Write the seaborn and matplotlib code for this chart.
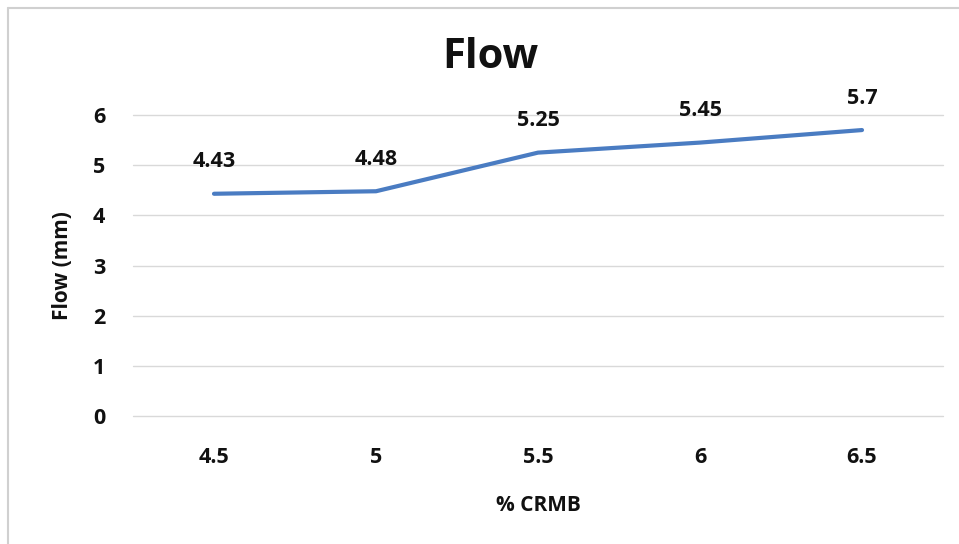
import matplotlib
matplotlib.use("Agg")
import matplotlib.pyplot as plt
import seaborn as sns
import pandas as pd
from matplotlib.lines import Line2D

# Marshall flow versus crumb-rubber content
crmb_pct = ["4.5", "5", "5.5", "6", "6.5"]
flow_mm = [4.43, 4.48, 5.25, 5.45, 5.7]
y_ticks = [0, 1, 2, 3, 4, 5, 6]

df = pd.DataFrame({"crmb": crmb_pct, "flow": flow_mm})

sns.set_theme(style="white")
plt.rcParams["font.family"] = ["Open Sans", "DejaVu Sans"]

fig = plt.figure(figsize=(9.59, 5.44), dpi=100)
ax = fig.add_axes([133 / 959, 1 - 416 / 544, 810 / 959, 301 / 544])

sns.lineplot(data=df, x="crmb", y="flow", ax=ax, color="#4A7CC2",
             linewidth=3, sort=False, solid_capstyle="round")

txt = dict(fontsize=15.5, fontweight="bold", color="#111111")

ax.set_xlim(-0.5, len(crmb_pct) - 0.5)
ax.set_ylim(0, 6)
ax.set_yticks(y_ticks)
ax.set_yticklabels([str(t) for t in y_ticks], **txt)
ax.set_xticks(range(len(crmb_pct)))
ax.set_xticklabels(crmb_pct, **txt)
ax.tick_params(axis="y", length=0, pad=20)
ax.tick_params(axis="x", length=0, pad=22)

ax.yaxis.grid(True, color="#d9d9d9", linewidth=1)
for gl in ax.get_ygridlines():
    gl.set_clip_on(False)
ax.set_axisbelow(True)
for s in ax.spines.values():
    s.set_visible(False)

# value labels above each point
for i, v in enumerate(flow_mm):
    ax.annotate(f"{v:g}", (i, v), xytext=(0, 23), textcoords="offset points",
                ha="center", va="center", **txt)

ax.set_xlabel("% CRMB", fontsize=15, fontweight="bold", color="#111111",
              labelpad=20)
ax.set_ylabel("Flow (mm)", fontsize=15, fontweight="bold", color="#111111",
              labelpad=14)

fig.text(490 / 959, 1 - 57 / 544, "Flow", ha="center", va="center",
         fontsize=30, fontweight="bold", color="#111111")

# chart frame edges (top and left)
fig.add_artist(Line2D([8 / 959, 1], [1 - 8 / 544, 1 - 8 / 544],
                      transform=fig.transFigure, color="#d0d0d0", linewidth=1.5))
fig.add_artist(Line2D([8 / 959, 8 / 959], [0, 1 - 8 / 544],
                      transform=fig.transFigure, color="#d0d0d0", linewidth=1.5))

fig.savefig("out.png", dpi=100, facecolor="white")
